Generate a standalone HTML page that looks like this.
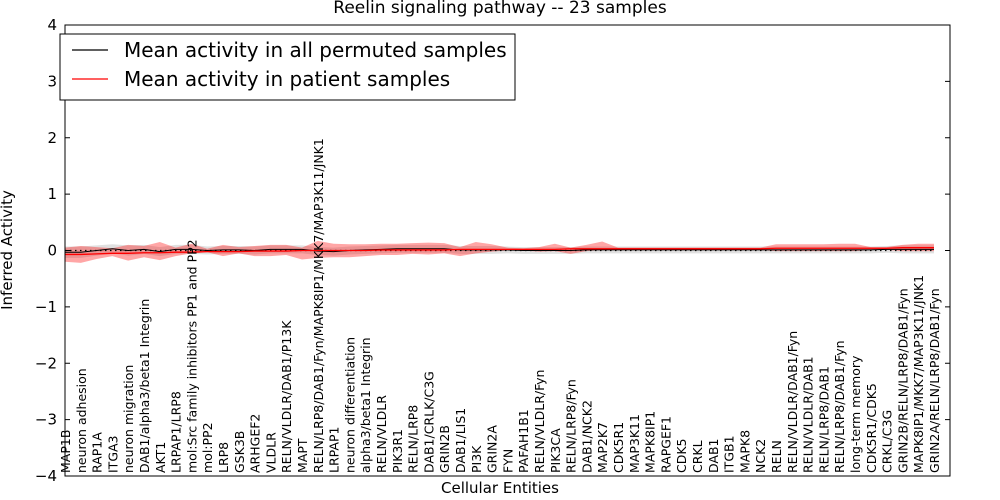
<!DOCTYPE html>
<html><head><meta charset="utf-8"><style>
body{margin:0;background:#fff}
svg{display:block;font-family:"DejaVu Sans","Liberation Sans",sans-serif}
</style></head><body>
<svg id="chart" width="1000" height="500" viewBox="0 0 1000 500">
<text x="500" y="13" text-anchor="middle" font-size="17">Reelin signaling pathway -- 23 samples</text>
<g id="plot"></g>
<rect x="65" y="25" width="885" height="451" fill="none" stroke="#000" stroke-width="1"/>
<text x="500" y="493" text-anchor="middle" font-size="15">Cellular Entities</text>
<text transform="translate(12,250) rotate(-90)" text-anchor="middle" font-size="15">Inferred Activity</text>
<g>
<rect x="60" y="34" width="455" height="66" fill="#fff" stroke="#000"/>
<line x1="72" y1="50" x2="108" y2="50" stroke="#000" stroke-width="1.2"/>
<text x="124" y="57" font-size="20">Mean activity in all permuted samples</text>
<line x1="72" y1="79" x2="108" y2="79" stroke="#f00" stroke-width="1.2"/>
<text x="124" y="86" font-size="20">Mean activity in patient samples</text>
</g>
</svg>
<script>
const categories=["MAP1B","neuron adhesion","RAP1A","ITGA3","neuron migration","DAB1/alpha3/beta1 Integrin","AKT1","LRPAP1/LRP8","mol:Src family inhibitors PP1 and PP2","mol:PP2","LRP8","GSK3B","ARHGEF2","VLDLR","RELN/VLDLR/DAB1/P13K","MAPT","RELN/LRP8/DAB1/Fyn/MAPK8IP1/MKK7/MAP3K11/JNK1","LRPAP1","neuron differentiation","alpha3/beta1 Integrin","RELN/VLDLR","PIK3R1","RELN/LRP8","DAB1/CRLK/C3G","GRIN2B","DAB1/LIS1","PI3K","GRIN2A","FYN","PAFAH1B1","RELN/VLDLR/Fyn","PIK3CA","RELN/LRP8/Fyn","DAB1/NCK2","MAP2K7","CDK5R1","MAP3K11","MAPK8IP1","RAPGEF1","CDK5","CRKL","DAB1","ITGB1","MAPK8","NCK2","RELN","RELN/VLDLR/DAB1/Fyn","RELN/VLDLR/DAB1","RELN/LRP8/DAB1","RELN/LRP8/DAB1/Fyn","long-term memory","CDK5R1/CDK5","CRKL/C3G","GRIN2B/RELN/LRP8/DAB1/Fyn","MAPK8IP1/MKK7/MAP3K11/JNK1","GRIN2A/RELN/LRP8/DAB1/Fyn"];
const patientMean=[-0.07,-0.07,-0.06,-0.05,-0.05,-0.04,-0.04,-0.03,-0.03,-0.02,-0.02,-0.02,-0.01,-0.01,-0.01,0,0,0,0,0,0.01,0.01,0.01,0.01,0.01,0.02,0.02,0.02,0.02,0.02,0.02,0.02,0.03,0.03,0.03,0.03,0.03,0.03,0.03,0.03,0.03,0.03,0.03,0.03,0.03,0.04,0.04,0.04,0.04,0.04,0.04,0.04,0.04,0.05,0.05,0.05];
const patientLow=[-0.2,-0.22,-0.15,-0.1,-0.18,-0.12,-0.17,-0.1,-0.05,-0.03,-0.1,-0.05,-0.1,-0.1,-0.08,-0.16,-0.13,-0.12,-0.12,-0.1,-0.08,-0.08,-0.06,-0.07,-0.05,-0.1,-0.05,-0.02,0,0,-0.02,-0.01,-0.06,-0.01,0.01,0.01,0.01,0.01,0.01,0.01,0.01,0.01,0.01,0.01,0.01,-0.01,-0.01,-0.01,-0.01,-0.01,-0.01,0.01,0.01,-0.01,-0.01,-0.01];
const patientHigh=[0.05,0.08,0.06,0.04,0.1,0.08,0.15,0.05,0.12,0.03,0.1,0.06,0.08,0.1,0.1,0.05,0.17,0.12,0.11,0.11,0.12,0.12,0.13,0.14,0.13,0.06,0.15,0.11,0.05,0.04,0.06,0.12,0.05,0.1,0.16,0.05,0.05,0.05,0.05,0.05,0.05,0.05,0.05,0.05,0.05,0.11,0.11,0.11,0.11,0.12,0.12,0.06,0.06,0.1,0.12,0.12];
const permMean=[-0.03,-0.03,0,0.03,0,0.02,-0.02,0.02,0.02,0,0.01,0.01,0,0.02,0.02,0.02,-0.01,-0.02,0,0.01,0.02,0.03,0.03,0.03,0.03,0.01,0.01,0.01,0.01,0,0,0,0,0.01,0.01,0.01,0.01,0.01,0.01,0.01,0.01,0.01,0.01,0.01,0.01,0.01,0.01,0.01,0.01,0.01,0.01,0.01,0.02,0.02,0.02,0.02];
const permWidth=[0.1,0.1,0.09,0.08,0.09,0.08,0.08,0.08,0.08,0.07,0.07,0.07,0.07,0.07,0.07,0.07,0.07,0.07,0.07,0.07,0.07,0.07,0.07,0.07,0.07,0.07,0.07,0.07,0.06,0.06,0.06,0.06,0.06,0.06,0.06,0.06,0.06,0.06,0.06,0.06,0.06,0.06,0.06,0.06,0.06,0.06,0.06,0.06,0.06,0.06,0.06,0.06,0.06,0.07,0.07,0.07];
const yTicks=[4,3,2,1,0,-1,-2,-3,-4];

const NS="http://www.w3.org/2000/svg";
const plot=document.getElementById('plot');
const X0=65,DX=15.8,Y0=250.5,SY=56.375;
const xs=i=>X0+i*DX, ys=v=>Y0-v*SY;
function mk(tag,attrs,parent){const e=document.createElementNS(NS,tag);for(const k in attrs)e.setAttribute(k,attrs[k]);(parent||plot).appendChild(e);return e;}
function band(lo,hi){let d='M'+lo.map((v,i)=>xs(i)+','+ys(v)).join(' L');for(let i=hi.length-1;i>=0;i--)d+=' L'+xs(i)+','+ys(hi[i]);return d+'Z';}
const permLo=permMean.map((v,i)=>v-permWidth[i]), permHi=permMean.map((v,i)=>v+permWidth[i]);
const g1=mk('path',{d:band(permLo,permHi),fill:'#ccc','fill-opacity':0.6});


const r1=mk('path',{d:band(patientLow,patientHigh),fill:'#f00','fill-opacity':0.35});


const zl=mk('line',{x1:X0,x2:xs(categories.length-1),y1:ys(0),y2:ys(0),stroke:'#000','stroke-dasharray':'1.5,3.5','stroke-width':1.2});


const bl=mk('polyline',{points:permMean.map((v,i)=>xs(i)+','+ys(v)).join(' '),fill:'none',stroke:'#000','stroke-width':1});


const rl=mk('polyline',{points:patientMean.map((v,i)=>xs(i)+','+ys(v)).join(' '),fill:'none',stroke:'#f00','stroke-width':1.3});


yTicks.forEach(t=>{
  mk('line',{x1:65,x2:70,y1:ys(t),y2:ys(t),stroke:'#000'});
  mk('line',{x1:945,x2:950,y1:ys(t),y2:ys(t),stroke:'#000'});
  const tx=mk('text',{x:57,y:ys(t)+5,'text-anchor':'end','font-size':15});
  tx.textContent=String(t).replace('-','\u2212');
  
  
});
categories.forEach((c,i)=>{
  const x=xs(i);
  const t=mk('text',{transform:`translate(${x+5},473) rotate(-90)`,'font-size':12.5});
  t.textContent=c;
  
  
});
</script>
</body></html>
